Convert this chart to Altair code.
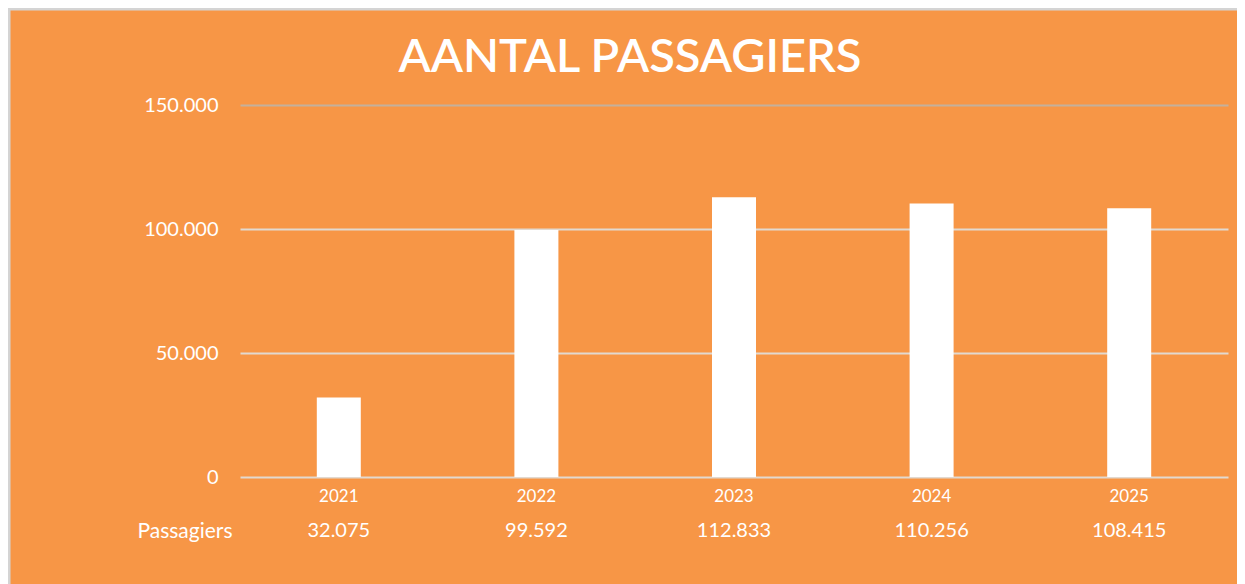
import altair as alt
import pandas as pd

years = ["2021", "2022", "2023", "2024", "2025"]
passengers = [32075, 99592, 112833, 110256, 108415]
y_ticks = [0, 50000, 100000, 150000]
row_label = "Passagiers"
title_text = "AANTAL PASSAGIERS"

df = pd.DataFrame({"year": years, "passagiers": passengers})

W, H = 988, 372
ORANGE = "#F79646"
FONT = "Lato"
TXT = "#FFFFFF"

base = alt.Chart(df)

x_enc = alt.X(
    "year:N",
    sort=years,
    scale=alt.Scale(paddingInner=0, paddingOuter=0),
    axis=alt.Axis(
        title=row_label, titleX=-8, titleY=54, titleAlign="right",
        titleBaseline="middle", titleAngle=0, titleFont=FONT, titleFontSize=21,
        titleFontWeight="normal", titleColor=TXT,
        labelAngle=0, labelFont=FONT, labelFontSize=17, labelColor=TXT,
        labelPadding=11, domain=False, ticks=False,
    ),
)

bars = base.mark_bar(color="white", size=44).encode(
    x=x_enc,
    y=alt.Y(
        "passagiers:Q",
        scale=alt.Scale(domain=[0, 150000], nice=False),
        axis=alt.Axis(
            title=None, values=y_ticks, format=",d", domain=False, ticks=False,
            labelPadding=22, labelFont=FONT, labelFontSize=20, labelColor=TXT,
            gridColor={"condition": {"test": "datum.value === 150000", "value": "#c4b09c"},
                       "value": "#e2d9d0"},
            gridWidth=2,
        ),
    ),
)

values = base.mark_text(font=FONT, fontSize=20, color=TXT, baseline="middle").encode(
    x=alt.X("year:N", sort=years),
    y=alt.value(H + 54),
    text=alt.Text("passagiers:Q", format=",d"),
)

frame = alt.Chart(pd.DataFrame({"f": [0]})).mark_rect(
    fill=None, stroke="#d4d4d4", strokeWidth=3
).encode(
    x=alt.value(-231), x2=alt.value(W + 40),
    y=alt.value(-96), y2=alt.value(H + 140),
)

chart = alt.layer(bars, values, frame).properties(
    width=W, height=H,
    title=alt.Title(title_text, font=FONT, fontSize=47, fontWeight=600, color=TXT,
                    anchor="middle", frame="group", dx=-104, offset=-74),
    autosize=alt.AutoSizeParams(type="none"),
    padding={"left": 232, "top": 97, "right": 9, "bottom": 107},
    background=ORANGE,
).configure(
    locale={"number": {"decimal": ",", "thousands": ".", "grouping": [3], "currency": ["€", ""]}}
).configure_view(stroke=None)

chart.save("out.html", embed_options={"renderer": "svg", "actions": False})
